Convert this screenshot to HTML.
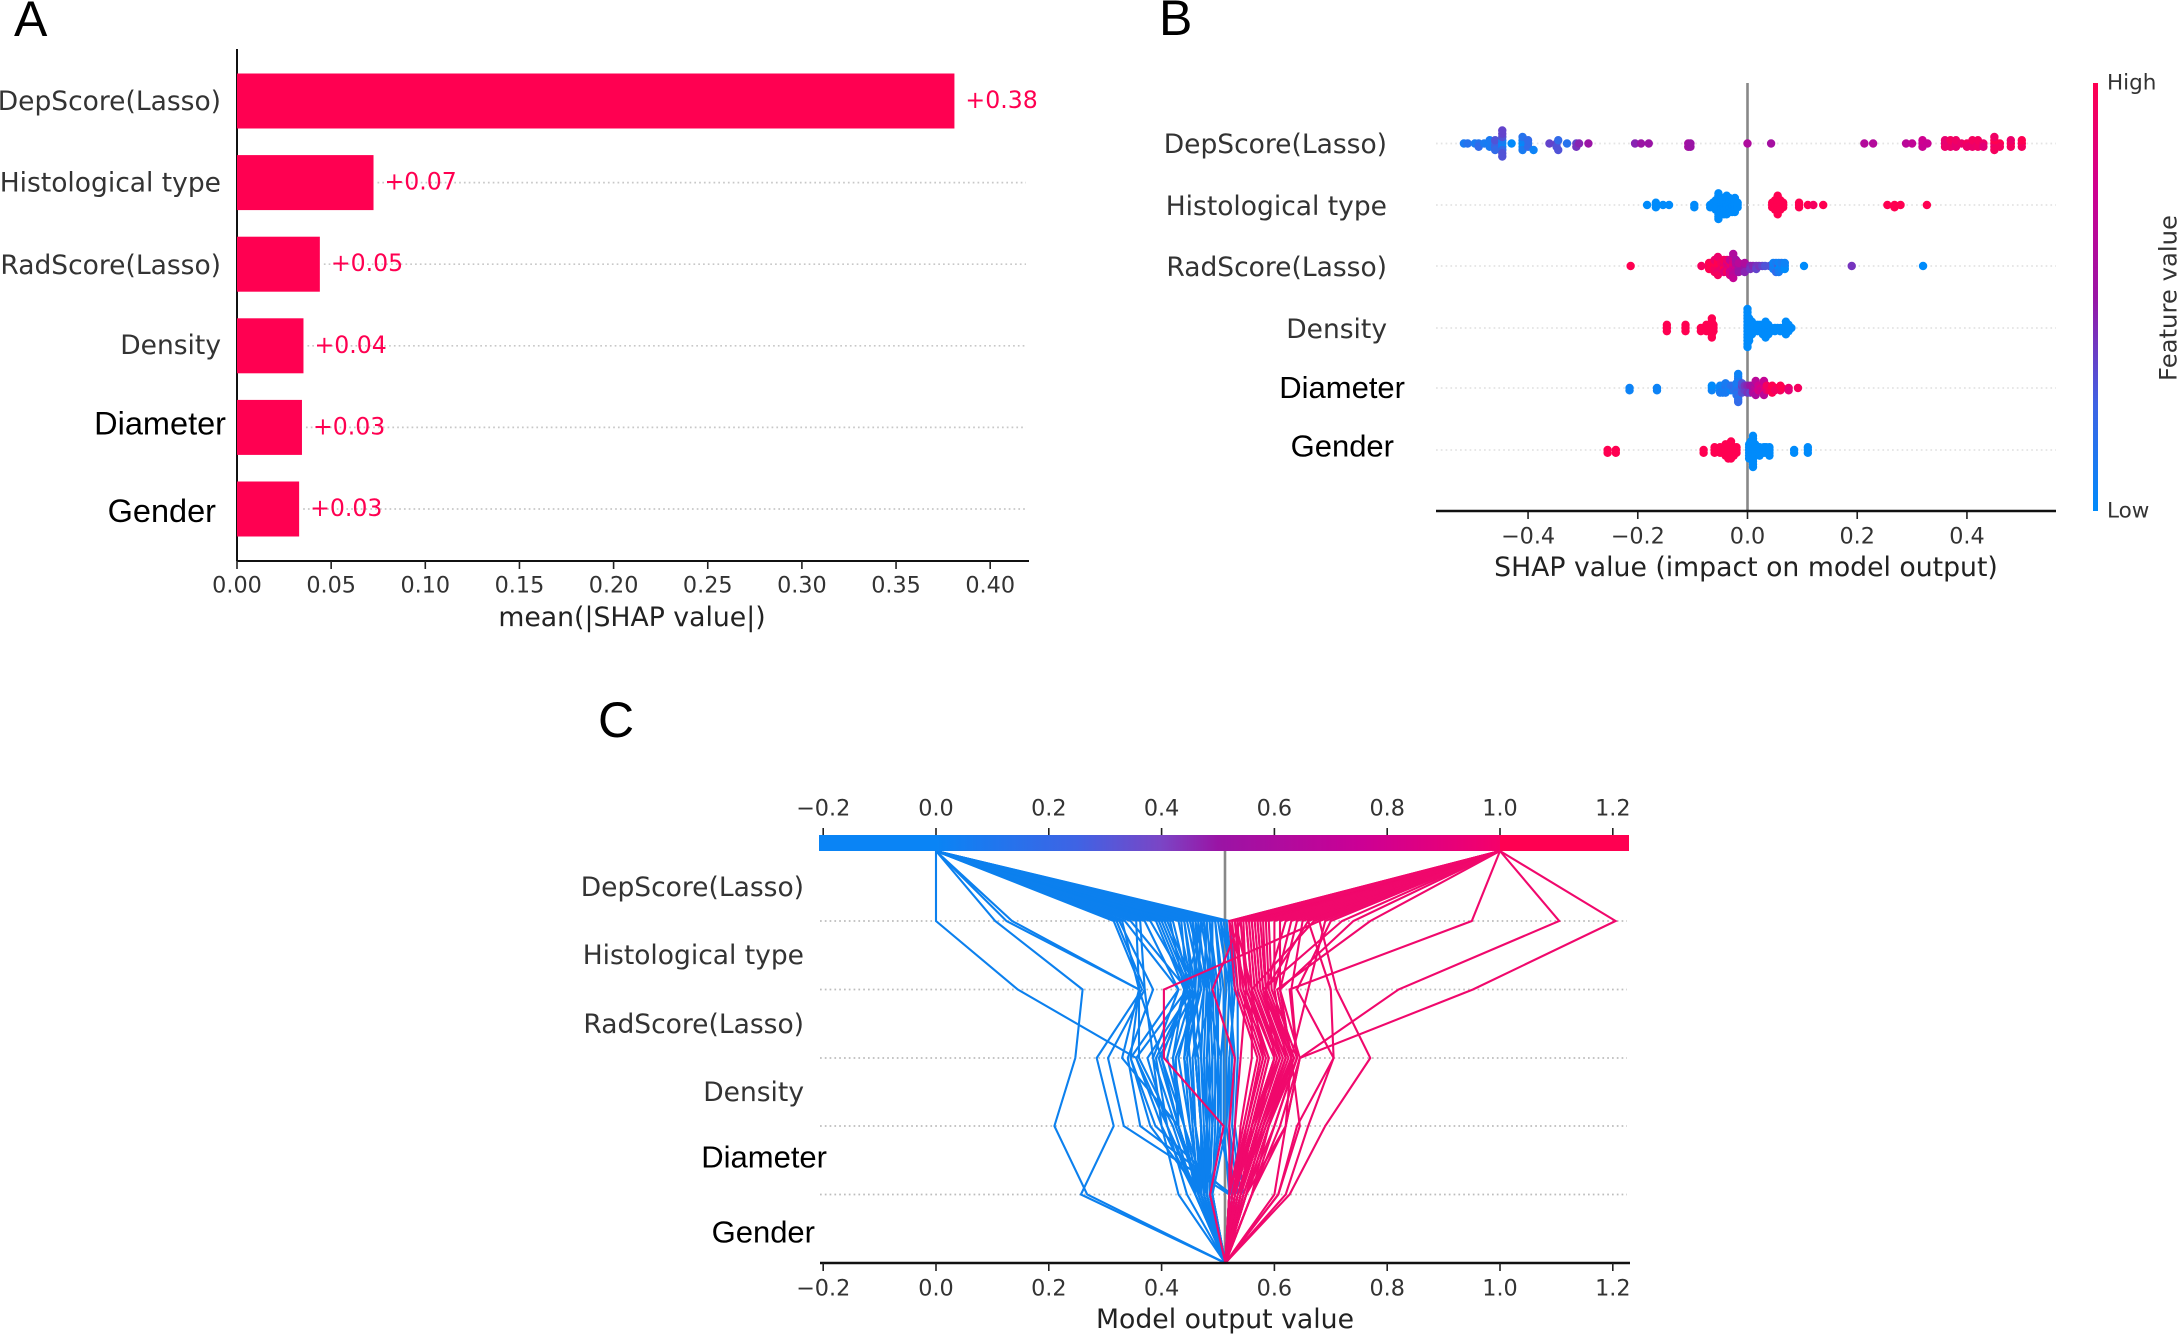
<!DOCTYPE html>
<html>
<head>
<meta charset="utf-8">
<title>SHAP summary figure</title>
<style>
html,body{margin:0;padding:0;background:#fff;}
svg{display:block;}
text{font-family:"DejaVu Sans",sans-serif;}
.arial{font-family:"Liberation Sans",Arial,sans-serif;fill:#000;}
.ylab{font-size:26.5px;fill:#333;text-anchor:end;dominant-baseline:central;}
.tick{font-size:22.3px;fill:#333;text-anchor:middle;dominant-baseline:central;}
.title{font-size:26.7px;fill:#222;text-anchor:middle;dominant-baseline:central;}
</style>
</head>
<body>
<svg id="fig" xmlns="http://www.w3.org/2000/svg" width="2178" height="1334" viewBox="0 0 2178 1334">
  <defs>
    <linearGradient id="grad-h" gradientUnits="userSpaceOnUse" x1="936" y1="0" x2="1500" y2="0">
      <stop offset="0" stop-color="#0a84f5"/>
      <stop offset="0.25" stop-color="#3f63e4"/>
      <stop offset="0.4" stop-color="#7b45c5"/>
      <stop offset="0.5" stop-color="#9a14a5"/>
      <stop offset="0.75" stop-color="#cb0095"/>
      <stop offset="1" stop-color="#f5006a"/>
      <stop offset="1.1" stop-color="#ff0051"/>
    </linearGradient>
    <linearGradient id="grad-v" x1="0" y1="1" x2="0" y2="0">
      <stop offset="0" stop-color="#008bfb"/>
      <stop offset="0.25" stop-color="#3f63e4"/>
      <stop offset="0.5" stop-color="#9a14a5"/>
      <stop offset="0.75" stop-color="#cf0090"/>
      <stop offset="1" stop-color="#ff0051"/>
    </linearGradient>
  </defs>

  <g id="panel-a">
    <text class="arial" x="14" y="36" font-size="50">A</text>
    <text class="title" x="632" y="617.5">mean(|SHAP value|)</text>
    <line x1="237" y1="49" x2="237" y2="561" stroke="#111" stroke-width="2"/>
    <line x1="237" y1="561" x2="1029" y2="561" stroke="#111" stroke-width="2"/>
    <g id="a-marks"></g>
  </g>

  <g id="panel-b">
    <text class="arial" x="1159" y="35" font-size="50">B</text>
    <line x1="1747.5" y1="83" x2="1747.5" y2="511" stroke="#888" stroke-width="2.6"/>
    <g id="b-marks"></g>
    <line x1="1436" y1="511" x2="2056" y2="511" stroke="#111" stroke-width="2.5"/>
    <text class="title" x="1746" y="567.5">SHAP value (impact on model output)</text>
    <rect x="2093" y="83" width="5" height="428" fill="url(#grad-v)"/>
    <text x="2107" y="83" font-size="21.5" fill="#333" dominant-baseline="central">High</text>
    <text x="2107" y="511" font-size="21.5" fill="#333" dominant-baseline="central">Low</text>
    <text x="2168" y="298" font-size="24.3" fill="#333" text-anchor="middle" dominant-baseline="central" transform="rotate(-90 2168 298)">Feature value</text>
  </g>

  <g id="panel-c">
    <text class="arial" x="598" y="737" font-size="50">C</text>
    <g id="c-grid"></g>
    <line x1="1225" y1="851" x2="1225" y2="1263" stroke="#888" stroke-width="2.6"/>
    <g id="c-marks"></g>
    <rect x="819" y="835" width="810" height="16" fill="url(#grad-h)"/>
    <line x1="820" y1="1263" x2="1630" y2="1263" stroke="#111" stroke-width="2.5"/>
    <text class="title" x="1225" y="1319.5">Model output value</text>
  </g>
</svg>

<script>
// ---------- Panel A data ----------
const barFeatures = ["DepScore(Lasso)", "Histological type", "RadScore(Lasso)", "Density", "Diameter", "Gender"];
const barValues = [0.381, 0.0725, 0.044, 0.0353, 0.0345, 0.033];
const barPrinted = ["+0.38", "+0.07", "+0.05", "+0.04", "+0.03", "+0.03"];
const barTicks = [0, 0.05, 0.10, 0.15, 0.20, 0.25, 0.30, 0.35, 0.40];
const barTickLabels = ["0.00", "0.05", "0.10", "0.15", "0.20", "0.25", "0.30", "0.35", "0.40"];

// ---------- Panel B data: [shap value, feature value 0..1] ----------
const swarmTicks = [-0.4, -0.2, 0, 0.2, 0.4];
const swarmTickLabels = ["\u22120.4", "\u22120.2", "0.0", "0.2", "0.4"];
const swarmDepScore = [[-.517,.1],[-.51,.15],[-.497,.1],[-.49,.15],[-.49,.2],[-.48,.1],[-.47,.05],[-.47,.1],[-.47,.1],[-.46,.2],[-.46,.25],[-.46,.3],[-.46,.2],[-.447,0],[-.447,.05],[-.447,.1],[-.447,.2],[-.447,.3],[-.447,.3],[-.447,.35],[-.447,.3],[-.447,.35],[-.43,0],[-.41,0],[-.41,0],[-.41,.05],[-.41,.1],[-.41,.15],[-.4,.1],[-.4,.2],[-.4,.2],[-.39,.05],[-.361,.35],[-.348,.35],[-.348,.3],[-.345,.2],[-.345,.3],[-.329,.15],[-.312,.35],[-.312,.4],[-.307,.45],[-.29,.5],[-.205,.45],[-.194,.5],[-.18,.5],[-.108,.55],[-.108,.55],[-.104,.5],[-.104,.5],[0,.6],[.043,.55],[.213,.62],[.229,.62],[.289,.65],[.3,.68],[.319,.7],[.319,.72],[.319,.75],[.328,.72],[.36,.85],[.36,.9],[.36,.88],[.37,.85],[.37,.9],[.37,.95],[.38,.85],[.38,.88],[.38,.92],[.39,.9],[.40,.95],[.40,.9],[.41,.85],[.41,.9],[.41,.95],[.42,.88],[.42,.92],[.42,.95],[.43,.9],[.43,.85],[.45,.95],[.45,.9],[.45,1],[.45,.95],[.45,.92],[.46,1],[.46,.95],[.48,1],[.48,.95],[.48,.9],[.5,1],[.5,.95],[.5,1]];
const swarmHistological = [[-.183,0],[-.167,0],[-.167,0],[-.167,0],[-.154,0],[-.143,0],[-.097,0],[-.097,0],[-.068,0],[-.068,0],[-.063,0],[-.063,0],[-.063,0],[-.058,0],[-.058,0],[-.058,0],[-.058,0],[-.058,0],[-.053,0],[-.053,0],[-.053,0],[-.053,0],[-.053,0],[-.053,0],[-.053,0],[-.048,0],[-.048,0],[-.048,0],[-.048,0],[-.048,0],[-.048,0],[-.048,0],[-.043,0],[-.043,0],[-.043,0],[-.043,0],[-.043,0],[-.043,0],[-.043,0],[-.043,0],[-.038,0],[-.038,0],[-.038,0],[-.038,0],[-.038,0],[-.038,0],[-.038,0],[-.038,0],[-.038,0],[-.033,0],[-.033,0],[-.033,0],[-.033,0],[-.033,0],[-.033,0],[-.033,0],[-.028,0],[-.028,0],[-.028,0],[-.028,0],[-.028,0],[-.028,0],[-.023,0],[-.023,0],[-.023,0],[-.023,0],[-.023,0],[-.023,0],[-.023,0],[-.018,0],[-.018,0],[-.018,0],[.045,1],[.045,1],[.045,1],[.05,1],[.05,1],[.05,1],[.05,1],[.05,1],[.055,1],[.055,1],[.055,1],[.055,1],[.055,1],[.055,1],[.055,1],[.055,1],[.055,1],[.06,1],[.06,1],[.06,1],[.06,1],[.06,1],[.065,1],[.065,1],[.065,1],[.094,1],[.094,1],[.094,1],[.11,1],[.12,.95],[.138,1],[.255,1],[.268,1],[.268,1],[.279,1],[.327,1]];
const swarmRadScore = [[-.213,1],[-.084,.95],[-.07,.95],[-.07,1],[-.07,1],[-.06,1],[-.06,.95],[-.06,1],[-.06,.95],[-.06,.9],[-.054,1],[-.054,.95],[-.054,1],[-.054,.9],[-.054,1],[-.054,.95],[-.054,.9],[-.048,1],[-.048,.9],[-.048,.95],[-.043,.9],[-.043,1],[-.043,.9],[-.043,.85],[-.043,.95],[-.037,.9],[-.037,.85],[-.037,.8],[-.037,.95],[-.037,.9],[-.032,.8],[-.032,.85],[-.032,.9],[-.032,.75],[-.032,.7],[-.032,.8],[-.026,.8],[-.026,.75],[-.026,.85],[-.026,.7],[-.026,.8],[-.026,.65],[-.026,.75],[-.026,.7],[-.026,.6],[-.021,.7],[-.021,.75],[-.021,.6],[-.021,.65],[-.021,.55],[-.016,.6],[-.016,.55],[-.016,.65],[-.016,.5],[-.005,.55],[-.005,.5],[-.005,.6],[-.005,.45],[.005,.45],[.005,.4],[.01,.45],[.016,.4],[.016,.35],[.021,.4],[.027,.35],[.032,.3],[.04,.3],[.047,.1],[.047,.1],[.047,.05],[.052,.05],[.052,.05],[.052,.1],[.052,.2],[.057,.35],[.057,0],[.057,.05],[.057,.1],[.062,0],[.062,.05],[.062,.1],[.068,0],[.068,0],[.068,.05],[.103,0],[.19,.4],[.32,0]];
const swarmDensity = [[-.147,1],[-.147,1],[-.147,1],[-.113,1],[-.113,1],[-.113,1],[-.085,1],[-.085,1],[-.08,1],[-.075,1],[-.075,1],[-.075,1],[-.07,1],[-.07,1],[-.07,1],[-.065,1],[-.065,1],[-.065,1],[-.065,1],[-.065,1],[-.065,1],[-.065,1],[-.062,1],[-.062,1],[-.062,1],[0,0],[0,0],[0,0],[0,0],[0,0],[0,0],[0,0],[0,0],[0,0],[0,0],[0,0],[0,0],[0,0],[.003,0],[.003,0],[.003,0],[.003,0],[.003,0],[.003,0],[.003,0],[.003,0],[.008,0],[.008,0],[.008,0],[.008,0],[.008,0],[.013,0],[.013,0],[.013,0],[.018,0],[.018,0],[.018,0],[.023,0],[.023,0],[.023,0],[.028,0],[.028,0],[.028,0],[.028,0],[.033,0],[.033,0],[.033,0],[.033,0],[.033,0],[.033,0],[.038,0],[.038,0],[.038,0],[.038,0],[.043,0],[.043,0],[.05,0],[.05,0],[.055,0],[.06,0],[.06,0],[.065,0],[.065,0],[.07,0],[.07,0],[.07,0],[.07,0],[.07,0],[.075,0],[.075,0],[.075,0],[.08,0]];
const swarmDiameter = [[-.215,.05],[-.215,.05],[-.165,.05],[-.165,.05],[-.065,.05],[-.065,.05],[-.065,0],[-.05,.05],[-.05,0],[-.05,.05],[-.05,.1],[-.045,0],[-.045,.1],[-.045,.05],[-.045,.1],[-.04,.1],[-.04,.05],[-.04,.15],[-.04,.1],[-.04,.1],[-.035,.05],[-.035,.1],[-.035,.1],[-.03,.1],[-.03,.05],[-.03,.15],[-.025,.1],[-.025,.15],[-.025,.2],[-.02,0],[-.02,.1],[-.02,.15],[-.02,.2],[-.02,.1],[-.02,.15],[-.017,.1],[-.017,.2],[-.017,.1],[-.017,.15],[-.017,.1],[-.017,.2],[-.017,.05],[-.01,.3],[-.01,.25],[-.01,.35],[-.01,.3],[-.01,.3],[-.005,.3],[-.005,.35],[-.005,.4],[0,.4],[0,.35],[0,.45],[0,.4],[.005,.45],[.005,.4],[.005,.5],[.005,.35],[.01,.6],[.01,.5],[.01,.55],[.01,.6],[.015,.7],[.015,.6],[.015,.65],[.015,.7],[.015,.55],[.015,.6],[.015,.65],[.02,.7],[.02,.8],[.02,.75],[.025,.8],[.025,.75],[.03,.75],[.03,.7],[.03,.8],[.03,.85],[.03,.75],[.03,.65],[.03,.7],[.035,.9],[.035,.85],[.035,.95],[.04,.9],[.04,.95],[.045,1],[.045,.95],[.045,1],[.045,1],[.05,1],[.05,.95],[.06,1],[.06,.95],[.06,1],[.063,1],[.075,.9],[.075,.85],[.092,.95]];
const swarmGender = [[-.255,1],[-.255,1],[-.24,1],[-.24,1],[-.08,1],[-.08,1],[-.06,1],[-.06,1],[-.06,1],[-.05,1],[-.05,1],[-.05,1],[-.045,1],[-.045,1],[-.04,1],[-.04,1],[-.04,1],[-.04,1],[-.04,1],[-.035,1],[-.035,1],[-.035,1],[-.035,1],[-.035,1],[-.035,1],[-.03,1],[-.03,1],[-.03,1],[-.03,1],[-.03,1],[-.03,1],[-.03,1],[-.025,1],[-.025,1],[-.025,1],[-.025,1],[-.02,1],[-.02,1],[-.02,1],[.003,0],[.003,0],[.003,0],[.003,0],[.003,0],[.003,0],[.006,0],[.006,0],[.006,0],[.006,0],[.006,0],[.006,0],[.006,0],[.01,0],[.01,0],[.01,0],[.01,0],[.01,0],[.01,0],[.01,0],[.01,0],[.01,0],[.01,0],[.01,0],[.01,0],[.014,0],[.014,0],[.014,0],[.014,0],[.014,0],[.018,0],[.018,0],[.018,0],[.022,0],[.022,0],[.022,0],[.022,0],[.026,0],[.026,0],[.03,0],[.03,0],[.03,0],[.034,0],[.034,0],[.034,0],[.04,0],[.04,0],[.04,0],[.04,0],[.085,0],[.085,0],[.11,0],[.11,0],[.11,0]];

// ---------- Panel C data: values at each feature row ----------
const decisionTicks = [-0.2, 0, 0.2, 0.4, 0.6, 0.8, 1.0, 1.2];
const decisionTickLabels = ["\u22120.2", "0.0", "0.2", "0.4", "0.6", "0.8", "1.0", "1.2"];
const decisionBase = 0.513;
const decisionFinalLow = 0;
const decisionFinalHigh = 1;
// each sample: output after Histological, RadScore, Density, Diameter, Gender
const decisionLow = [
[0,.145,.355,.40,.46],[.105,.26,.247,.21,.268],[.125,.36,.33,.43,.47],[.135,.36,.40,.43,.47],[.315,.365,.285,.315,.257],
[.32,.37,.305,.333,.52],[.325,.385,.34,.362,.525],[.33,.36,.345,.389,.52],[.335,.43,.385,.40,.43],[.345,.445,.355,.41,.445],
[.355,.36,.36,.42,.46],[.362,.37,.385,.425,.47],[.39,.44,.42,.43,.47],[.395,.445,.40,.44,.48],[.40,.45,.44,.45,.47],
[.405,.455,.42,.44,.46],[.41,.46,.44,.46,.475],[.415,.44,.45,.46,.48],[.42,.45,.46,.47,.48],[.43,.455,.46,.47,.47],
[.435,.445,.465,.47,.475],[.44,.46,.47,.475,.48],[.445,.47,.44,.46,.47],[.45,.48,.475,.48,.48],[.455,.475,.47,.48,.475],
[.46,.485,.48,.48,.49],[.465,.48,.485,.485,.48],[.47,.49,.48,.49,.485],[.475,.485,.49,.49,.48],[.48,.49,.495,.495,.49],
[.485,.50,.50,.50,.49],[.49,.48,.505,.50,.53],[.495,.51,.51,.51,.52],[.50,.52,.515,.515,.53],[.505,.53,.52,.52,.535],
[.51,.525,.525,.52,.525],[.515,.52,.53,.525,.54],[.52,.535,.535,.53,.545],[.46,.47,.425,.43,.47],[.47,.465,.445,.455,.465],
[.48,.475,.455,.46,.47],[.49,.49,.46,.47,.475],[.475,.44,.41,.44,.47],[.455,.46,.395,.43,.465],[.465,.46,.43,.45,.47],
[.44,.455,.375,.41,.46],[.37,.43,.345,.38,.47],[.38,.45,.39,.41,.465],[.485,.495,.50,.49,.485],[.495,.505,.49,.48,.48],
[.505,.515,.505,.505,.485],[.515,.53,.52,.515,.49]
];
const decisionHigh = [
[.52,.53,.57,.545,.52],[.525,.535,.575,.55,.52],[.53,.54,.58,.55,.525],[.53,.545,.585,.555,.525],[.535,.54,.59,.56,.525],
[.54,.55,.59,.56,.53],[.54,.555,.60,.56,.53],[.545,.55,.60,.565,.53],[.55,.56,.605,.565,.53],[.55,.56,.61,.57,.535],
[.555,.565,.61,.57,.535],[.56,.57,.615,.575,.535],[.56,.57,.62,.575,.54],[.565,.575,.62,.58,.54],[.57,.58,.625,.58,.54],
[.57,.58,.63,.58,.54],[.575,.585,.63,.585,.545],[.58,.585,.635,.585,.545],[.585,.59,.635,.59,.55],[.59,.595,.64,.59,.55],
[.52,.55,.54,.53,.52],[.53,.56,.56,.54,.53],[.60,.60,.62,.58,.54],[.61,.61,.63,.59,.55],[.62,.585,.60,.57,.54],
[.63,.60,.62,.58,.55],[.64,.61,.645,.61,.56],[.65,.63,.64,.60,.55],[.66,.585,.60,.56,.54],[.66,.70,.705,.64,.607],
[.67,.56,.58,.55,.53],[.68,.71,.77,.69,.627],[.69,.66,.63,.645,.607],[.70,.64,.705,.66,.62],[.72,.58,.61,.56,.54],
[.74,.61,.63,.59,.56],[.77,.605,.63,.62,.55],[.95,.627,.64,.60,.56],[1.105,.82,.645,.62,.56],[1.205,.952,.645,.62,.60],
[.68,.404,.404,.51,.486],[.54,.49,.53,.52,.52]
];

// ---------- helpers ----------
const NS = "http://www.w3.org/2000/svg";
function mk(tag, parent, attrs) {
  const el = document.createElementNS(NS, tag);
  for (const k in attrs) el.setAttribute(k, attrs[k]);
  parent.appendChild(el);
  return el;
}
function addText(parent, x, y, str, cls, name, extra) {
  const el = mk("text", parent, Object.assign({x: x, y: y, class: cls}, extra || {}));
  el.textContent = str;
  
  
  return el;
}
function addTick(parent, x, y1, y2, name) {
  const el = mk("line", parent, {x1: x, x2: x, y1: y1, y2: y2, stroke: "#222", "stroke-width": 1.6});
  
  
}
function addGrid(parent, x1, x2, y, name, color) {
  const el = mk("line", parent, {x1: x1, x2: x2, y1: y, y2: y, stroke: color, "stroke-width": 1.7, "stroke-dasharray": "1.7 3.1"});
  
  
}
const colorStops = [[0,[0,139,251]],[.25,[63,99,228]],[.5,[154,20,165]],[.75,[207,0,144]],[1,[255,0,81]]];
function colorOf(t) {
  for (let i = 1; i < colorStops.length; i++) {
    if (t <= colorStops[i][0]) {
      const a = colorStops[i-1], b = colorStops[i];
      const f = (t - a[0]) / (b[0] - a[0]);
      const c = a[1].map(function (v, j) { return Math.round(v + (b[1][j] - v) * f); });
      return "rgb(" + c.join(",") + ")";
    }
  }
  return "rgb(255,0,81)";
}

// ---------- Panel A ----------
(function () {
  const g = document.getElementById("a-marks");
  const xA = function (v) { return 237 + v * 1883; };
  const yA = function (i) { return 101 + i * 81.6; };
  const labelX = [221, 221, 221, 221, 226, 216];
  const labelDy = [0.5, 0.5, 1.5, -0.5, -4, 2];
  barFeatures.forEach(function (f, i) {
    const y = yA(i);
    if (i > 0) addGrid(g, xA(barValues[i]) + 4, 1026, y, "bar-gridline", "#c8c8c8");
    const bar = mk("rect", g, {x: xA(0), y: y - 27.5, width: xA(barValues[i]) - xA(0), height: 55, fill: "#ff0051"});
    
    
    const cls = i >= 4 ? "ylab arial" : "ylab";
    addText(g, labelX[i], y + labelDy[i], f, cls, "bar-feature-label", i >= 4 ? {style: "font-size:32.5px;fill:#000"} : {});
    addText(g, xA(barValues[i]) + 11, y - 1, barPrinted[i], "", "bar-value-label", {"font-size": 23.6, fill: "#ff0051", "dominant-baseline": "central"});
  });
  barTicks.forEach(function (t, i) {
    addTick(g, xA(t), 561, 569, "bar-x-tick");
    addText(g, xA(t), 585.5, barTickLabels[i], "tick", "bar-x-tick-label");
  });
})();

// ---------- Panel B ----------
(function () {
  const g = document.getElementById("b-marks");
  const xB = function (v) { return 1747.5 + v * 548.6; };
  const rows = [
    ["DepScore(Lasso)", swarmDepScore, 143.5, 1387, 144.5, 13],
    ["Histological type", swarmHistological, 205, 1387, 206.5, 14],
    ["RadScore(Lasso)", swarmRadScore, 266, 1387, 267.5, 12],
    ["Density", swarmDensity, 328, 1387, 329.5, 19],
    ["Diameter", swarmDiameter, 388, 1405, 387.5, 14],
    ["Gender", swarmGender, 450, 1394, 446, 17]
  ];
  rows.forEach(function (r, i) {
    const pts = r[1], y0 = r[2];
    addGrid(g, 1436, 2056, y0, "beeswarm-gridline", "#e4e4e4");
    addText(g, r[3], r[4], r[0], i >= 4 ? "ylab arial" : "ylab", "beeswarm-feature-label", i >= 4 ? {style: "font-size:31px;fill:#000"} : {});
    const vals = pts.map(function (p) { return p[0]; });
    const lo = Math.min.apply(null, vals), hi = Math.max.apply(null, vals);
    const order = pts.map(function (p, k) { return k; }).sort(function (a, b) { return vals[a] - vals[b]; });
    let layer = 0, last = null;
    const off = new Array(pts.length).fill(0);
    order.forEach(function (k) {
      const q = Math.round(100 * (vals[k] - lo) / (hi - lo));
      if (q !== last) layer = 0;
      off[k] = Math.ceil(layer / 2) * ((layer % 2) * 2 - 1);
      layer++;
      last = q;
    });
    const maxOff = Math.max.apply(null, off.map(Math.abs));
    const k = r[5] / Math.max(maxOff, 1);
    pts.forEach(function (p, j) {
      const c = mk("circle", g, {cx: xB(p[0]), cy: y0 + off[j] * k, r: 4.2, fill: colorOf(p[1])});
      
      
    });
  });
  swarmTicks.forEach(function (t, i) {
    addTick(g, xB(t), 511, 519, "beeswarm-x-tick");
    addText(g, xB(t), 536.5, swarmTickLabels[i], "tick", "beeswarm-x-tick-label");
  });
})();

// ---------- Panel C ----------
(function () {
  const grid = document.getElementById("c-grid");
  const g = document.getElementById("c-marks");
  const xC = function (v) { return 936 + v * 564; };
  const levels = [921, 989.5, 1058, 1126, 1194.5];
  levels.forEach(function (y) { addGrid(grid, 820, 1627, y, "decision-gridline", "#bdbdbd"); });
  function drawSample(s, finalValue, color) {
    const pts = [[xC(finalValue), 851]];
    s.forEach(function (v, i) { pts.push([xC(v), levels[i]]); });
    pts.push([xC(decisionBase), 1263]);
    const p = mk("polyline", g, {points: pts.map(function (q) { return q[0].toFixed(1) + "," + q[1]; }).join(" "), fill: "none", stroke: color, "stroke-width": 2.1, "stroke-linejoin": "miter"});
    
    
  }
  decisionLow.forEach(function (s) { drawSample(s, decisionFinalLow, "#0c80ee"); });
  decisionHigh.forEach(function (s) { drawSample(s, decisionFinalHigh, "#f0086c"); });

  const labels = [
    ["DepScore(Lasso)", 804, 887.5, false],
    ["Histological type", 804, 955.5, false],
    ["RadScore(Lasso)", 804, 1024.5, false],
    ["Density", 804, 1092.5, false],
    ["Diameter", 827, 1157, true],
    ["Gender", 815, 1232, true]
  ];
  const lg = document.getElementById("panel-c");
  labels.forEach(function (l) {
    addText(lg, l[1], l[2], l[0], l[3] ? "ylab arial" : "ylab", "decision-feature-label", l[3] ? {style: "font-size:31px;fill:#000"} : {});
  });
  decisionTicks.forEach(function (t, i) {
    addTick(lg, xC(t), 828, 835, "decision-top-tick");
    addText(lg, xC(t), 808.5, decisionTickLabels[i], "tick", "decision-top-tick-label");
    addTick(lg, xC(t), 1263, 1271, "decision-bottom-tick");
    addText(lg, xC(t), 1288.5, decisionTickLabels[i], "tick", "decision-bottom-tick-label");
  });
})();
</script>
</body>
</html>
